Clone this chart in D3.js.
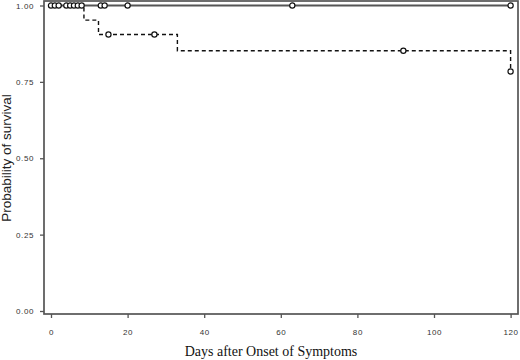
<!DOCTYPE html>
<html lang="en">
<head>
    <meta charset="UTF-8">
    <title>Survival</title>
    <script src="https://cdn.jsdelivr.net/npm/d3@7"></script>
    <style>
        body { margin: 0; background: #fff; }
    </style>
</head>
<body>
<script>

    // data
    var xTicks = [0, 20, 40, 60, 80, 100, 120];
    var yTicks = [0, 0.25, 0.5, 0.75, 1];

    // group 1 (solid): nobody died
    var solidDays = [0, 120];
    var solidSurv = [1, 1];
    var solidCensor = [0, 1, 2, 4, 5, 6, 7, 8, 13, 14, 20, 63, 120];

    // group 2 (dashed)
    var dashDays = [0, 8.6, 12.4, 33, 120];
    var dashSurv = [1, 0.952, 0.905, 0.852, 0.784];
    var dashCensorDays = [15, 27, 92, 120];
    var dashCensorSurv = [0.905, 0.905, 0.852, 0.784];

    var width = 520, height = 360;
    var box = {left: 44, right: 518, top: 1, bottom: 314};

    var svg = d3.select("body")
        .append("svg")
        .attr("width", width)
        .attr("height", height);

    var x = d3.scaleLinear().domain([0, 120]).range([51, 510.6]);
    var y = d3.scaleLinear().domain([0, 1]).range([311, 5.5]);

    // frame
    svg.append("rect")
        .attr("x", box.left)
        .attr("y", box.top)
        .attr("width", box.right - box.left)
        .attr("height", box.bottom - box.top)
        .attr("fill", "none")
        .attr("stroke", "#555")
        .attr("stroke-width", 1.7);

    // axes
    var yAxis = svg.append("g")
        .attr("transform", "translate(" + box.left + ",0)")
        .call(d3.axisLeft(y).tickValues(yTicks).tickFormat(d3.format(".2f")).tickSize(4).tickPadding(6));
    var xAxis = svg.append("g")
        .attr("transform", "translate(0," + box.bottom + ")")
        .call(d3.axisBottom(x).tickValues(xTicks).tickSize(4).tickPadding(11));

    [xAxis, yAxis].forEach(function (g) {
        g.select(".domain").remove();
        g.selectAll("line").attr("stroke", "#555").attr("stroke-width", 1.3);
        g.selectAll("text")
            .attr("font-family", "Liberation Sans, Arial, sans-serif")
            .attr("font-size", "8px")
            .attr("letter-spacing", "0.6px")
            .attr("fill", "#333");
    });

    // step lines
    var line = d3.line()
        .x(function (d) { return x(d[0]); })
        .y(function (d) { return y(d[1]); })
        .curve(d3.curveStepAfter);

    svg.append("path")
        .datum(d3.zip(solidDays, solidSurv))
        .attr("d", line)
        .attr("fill", "none")
        .attr("stroke", "#555")
        .attr("stroke-width", 2);

    svg.append("path")
        .datum(d3.zip(dashDays, dashSurv))
        .attr("d", line)
        .attr("fill", "none")
        .attr("stroke", "#111")
        .attr("stroke-width", 1.4)
        .attr("stroke-dasharray", "4,3");

    // censor marks
    svg.selectAll("circle.solid")
        .data(solidCensor)
        .enter()
        .append("circle")
        .attr("class", "solid")
        .attr("cx", function (d) { return x(d); })
        .attr("cy", y(1))
        .attr("r", 2.6)
        .attr("fill", "#fff")
        .attr("stroke", "#111")
        .attr("stroke-width", 1.2);

    svg.selectAll("circle.dash")
        .data(d3.zip(dashCensorDays, dashCensorSurv))
        .enter()
        .append("circle")
        .attr("class", "dash")
        .attr("cx", function (d) { return x(d[0]); })
        .attr("cy", function (d) { return y(d[1]); })
        .attr("r", 2.6)
        .attr("fill", "#fff")
        .attr("stroke", "#111")
        .attr("stroke-width", 1.2);

    // titles
    svg.append("text")
        .attr("x", 271)
        .attr("y", 356)
        .attr("text-anchor", "middle")
        .attr("font-family", "Liberation Serif, Times New Roman, serif")
        .attr("font-size", "14px")
        .attr("fill", "#111")
        .text("Days after Onset of Symptoms");

    svg.append("text")
        .attr("transform", "translate(11,158) rotate(-90)")
        .attr("text-anchor", "middle")
        .attr("font-family", "Liberation Sans, Arial, sans-serif")
        .attr("font-size", "13.5px")
        .attr("fill", "#222")
        .text("Probability of survival");

</script>
</body>
</html>
